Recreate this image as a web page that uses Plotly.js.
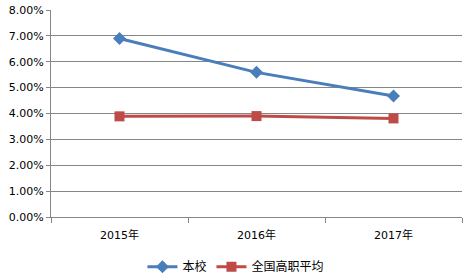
<!DOCTYPE html>
<html><head><meta charset="utf-8">
<script src="https://cdn.plot.ly/plotly-3.0.1.min.js"></script>
<style>body{margin:0;padding:0;background:#fff}#chart{width:471px;height:273px}</style>
</head><body><div id="chart"></div>
<script>
const categories = ['2015年', '2016年', '2017年'];
const schoolName = '本校';
const schoolValues = [0.069, 0.0559, 0.0468];
const nationalName = '全国高职平均';
const nationalValues = [0.0389, 0.0390, 0.0381];

const fontFam = '"DejaVu Sans", "Noto Sans CJK SC", sans-serif';
const traces = [
  {x: categories, y: schoolValues, name: schoolName, type: 'scatter', mode: 'lines+markers',
   line: {color: '#4a7ebb', width: 3}, marker: {symbol: 'diamond', size: 10, color: '#4a7ebb'}},
  {x: categories, y: nationalValues, name: nationalName, type: 'scatter', mode: 'lines+markers',
   line: {color: '#be4b48', width: 3}, marker: {symbol: 'square', size: 10, color: '#be4b48'}}
];
const layout = {
  width: 471, height: 273,
  margin: {l: 51, r: 9, t: 10, b: 56, autoexpand: false},
  paper_bgcolor: '#fff', plot_bgcolor: '#fff',
  font: {family: fontFam, size: 11, color: '#000'},
  showlegend: true,
  legend: {orientation: 'h', x: 0.45, xanchor: 'center', y: -0.17, yanchor: 'top',
           font: {family: '"Noto Sans CJK SC", sans-serif', size: 12}},
  xaxis: {type: 'category', range: [-0.5, 2.5], autorange: false, showgrid: false, showline: true,
          linecolor: '#868686', linewidth: 1,
          ticks: 'outside', tickson: 'boundaries', ticklen: 5, tickcolor: '#868686',
          ticklabelstandoff: 8,
          tickfont: {family: '"DejaVu Sans", "Noto Sans CJK SC", sans-serif', size: 11}},
  yaxis: {range: [0, 0.08], autorange: false, dtick: 0.01, tickformat: '.2%', showgrid: true, gridcolor: '#868686',
          showline: true, linecolor: '#868686', ticks: 'outside', ticklen: 4, tickcolor: '#868686',
          zeroline: false, automargin: false, tickfont: {size: 11}}
};
Plotly.newPlot('chart', traces, layout, {displayModeBar: false, staticPlot: true});
</script></body></html>
